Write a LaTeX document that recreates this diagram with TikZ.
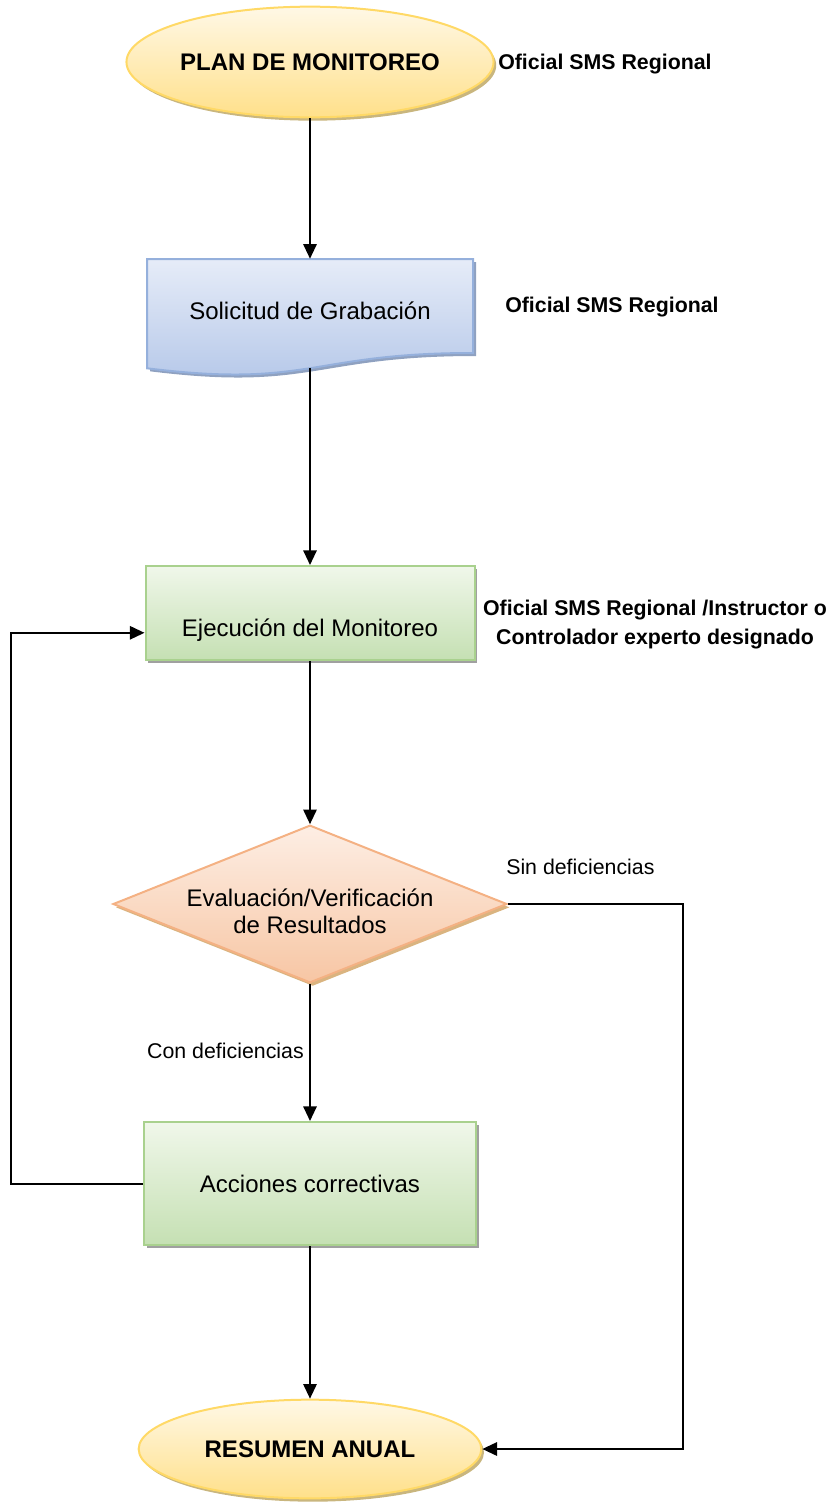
\documentclass[tikz,border=0pt]{standalone}
\usepackage{fontspec}
\setmainfont{Liberation Sans}
\usetikzlibrary{shapes.geometric,shadows,arrows.meta}
\definecolor{ovalTop}{HTML}{FFF8E6}
\definecolor{ovalBot}{HTML}{FFE08A}
\definecolor{ovalLine}{HTML}{FFD966}
\definecolor{ovalShadow}{HTML}{C9B67E}
\definecolor{docTop}{HTML}{E6ECF8}
\definecolor{docBot}{HTML}{B3C6E8}
\definecolor{docLine}{HTML}{95B0DC}
\definecolor{procTop}{HTML}{F0F7EA}
\definecolor{procBot}{HTML}{C5E0B3}
\definecolor{procLine}{HTML}{A9D18E}
\definecolor{decTop}{HTML}{FDEEE4}
\definecolor{decBot}{HTML}{F7C6A4}
\definecolor{decLine}{HTML}{F4B183}
\definecolor{boxShadow}{HTML}{A0A0A0}
\begin{document}
\begin{tikzpicture}[x=0.75pt,y=0.75pt,yscale=-1,xscale=1,
  boxfont/.style={font=\fontsize{18}{20}\selectfont},
  oval/.style={ellipse, draw=ovalLine, line width=1.5pt, top color=ovalTop, bottom color=ovalBot,
    drop shadow={shadow xshift=2pt, shadow yshift=-2.5pt, fill=ovalShadow, opacity=1},
    font=\fontsize{18}{20}\selectfont\bfseries, inner sep=0pt},
  proc/.style={rectangle, draw=procLine, line width=1.5pt, top color=procTop, bottom color=procBot,
    drop shadow={shadow xshift=2pt, shadow yshift=-2.5pt, fill=boxShadow, opacity=1}, boxfont},
  decision/.style={diamond, draw=decLine, line width=1.5pt, top color=decTop, bottom color=decBot,
    drop shadow={shadow xshift=2pt, shadow yshift=-2.5pt, fill=ovalShadow!60!decLine, opacity=1},
    boxfont, align=center, inner sep=0pt, aspect=2.5},
  role/.style={font=\fontsize{16}{21.75}\selectfont\bfseries, inner sep=0pt},
  note/.style={font=\fontsize{16}{19}\selectfont, inner sep=0pt},
  arrow/.style={-{Triangle[length=11pt,width=10pt]}, line width=1.5pt},
  ]
\useasboundingbox (0,0) rectangle (831,1506);

%Shape: Ellipse [PLAN DE MONITOREO]
\node[oval, minimum width=256.5pt, minimum height=83pt] (plan) at (310,62) {PLAN DE MONITOREO};
% Text Node
\node[role, anchor=west] (ofi1) at (498,64) {Oficial SMS Regional};

%Shape: Document [Solicitud de Grabacion]
\fill[docLine!70!gray, shift={(3,3)}] (147,259) -- (473,259) -- (473,353) .. controls (310,353) and (310,388.5) .. (147,368.3) -- cycle ;
\path[draw=docLine, line width=1.5pt, top color=docTop, bottom color=docBot] (147,259) -- (473,259) -- (473,353) .. controls (310,353) and (310,388.5) .. (147,368.3) -- cycle ;
\node[boxfont, minimum width=244.5pt, minimum height=81.75pt, text depth=5pt] (sol) at (310,313.5) {Solicitud de Grabación};
% Text Node
\node[role, anchor=west] (ofi2) at (505,307) {Oficial SMS Regional};

%Shape: Rectangle [Ejecucion]
\node[proc, minimum width=246.75pt, minimum height=70.5pt, text height=38.7pt] (ejec) at (310,613) {Ejecución del Monitoreo};
% Text Node
\node[role, align=center] (ofi3) at (655,624.5) {Oficial SMS Regional /Instructor o\\Controlador experto designado};

%Shape: Diamond [Evaluacion]
\node[decision, minimum width=293.25pt, minimum height=116.25pt, text height=44pt] (eval) at (310,904) {Evaluación/Verificación\\de Resultados};
% Text Node
\node[note, anchor=west] (sin) at (506,867) {Sin deficiencias};

%Shape: Rectangle [Acciones]
\node[proc, minimum width=249pt, minimum height=92.25pt] (acc) at (310,1183.5) {Acciones correctivas};
% Text Node
\node[note, anchor=east] (con) at (304,1051) {Con deficiencias};

%Shape: Ellipse [RESUMEN ANUAL]
\node[oval, minimum width=257pt, minimum height=74pt] (res) at (310,1449) {RESUMEN ANUAL};

%Straight Lines
\draw[arrow] (plan.south) -- (sol.north) ;
\draw[arrow] (sol.south) -- (ejec.north) ;
\draw[arrow] (ejec.south) -- (eval.north) ;
\draw[arrow] (eval.south) -- (acc.north) ;
\draw[arrow] (acc.south) -- (res.north) ;
\draw[arrow] (eval.east) -- ++(175,0) |- (res.east) ;
\draw[arrow] (acc.west) -- ++(-132,0) |- (ejec.mid west) ;

\end{tikzpicture}
\end{document}
